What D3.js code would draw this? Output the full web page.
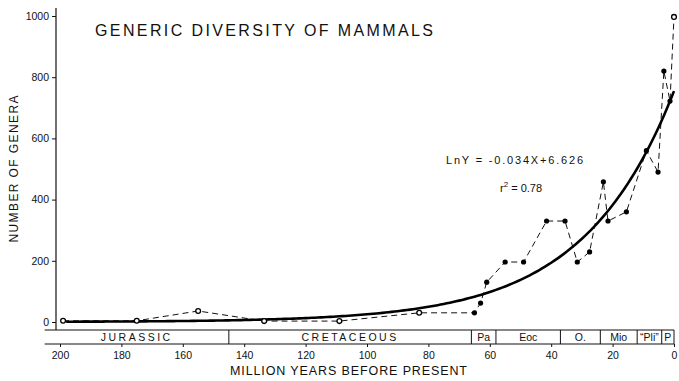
<!DOCTYPE html>
<html>
<head>
<meta charset="utf-8">
<script src="https://cdn.jsdelivr.net/npm/d3@7"></script>
<style>
    body { margin: 0; background: #fff; }
    text { font-family: "Liberation Sans", Arial, sans-serif; fill: #111; }
</style>
</head>
<body>
<div id="my_dataviz"></div>
<script>
// millions of years before present / number of genera
var ages   = [199, 175, 155, 133.5, 109, 83, 65, 63, 61, 55, 49, 41.5, 35.5, 31.5, 27.5, 23, 21.5, 15.5, 9, 5.2, 3.3, 1.3, 0];
var genera = [4, 4, 36, 3, 3, 30, 30, 62, 130, 196, 196, 330, 330, 196, 229, 458, 330, 360, 560, 490, 820, 722, 997];
// open circles vs filled dots
var isOpen = [true, true, true, true, true, true, false, false, false, false, false, false,
              false, false, false, false, false, false, false, false, false, false, true];

var periodNames  = ["JURASSIC", "CRETACEOUS", "Pa", "Eoc", "O.", "Mio", "\u201CPli\u201D", "P"];
var periodBounds = [205, 145, 66, 58, 37, 24, 12, 4, 0];

var xTicks = [200, 180, 160, 140, 120, 100, 80, 60, 40, 20, 0];
var yTicks = [0, 200, 400, 600, 800, 1000];

// regression printed on the chart: LnY = -0.034X + 6.626
var fitSlope = -0.034, fitIntercept = 6.626, fitR2 = 0.78;

var width = 679, height = 381;

var svg = d3.select("#my_dataviz")
    .append("svg")
    .attr("width", width)
    .attr("height", height);

var x = d3.scaleLinear().domain([200, 0]).range([60, 674]);
var y = d3.scaleLinear().domain([0, 1000]).range([322, 16]);

var bandTop = 330, bandBottom = 344;

// y axis
var yAxis = svg.append("g")
    .attr("transform", "translate(56,0)")
    .call(d3.axisLeft(y).tickValues(yTicks).tickFormat(d3.format("d"))
        .tickSize(4).tickPadding(3).tickSizeOuter(0));
yAxis.select(".domain").remove();
yAxis.selectAll("text").style("font-size", "10.5px").attr("fill", "#111");
yAxis.selectAll("line").attr("stroke", "#111");
svg.append("line")
    .attr("x1", 56).attr("x2", 56)
    .attr("y1", 8).attr("y2", bandTop)
    .attr("stroke", "#111").attr("stroke-width", 1.2);

// geological time band
var band = svg.append("g");
band.append("line")
    .attr("x1", x(periodBounds[0])).attr("x2", x(0))
    .attr("y1", bandTop).attr("y2", bandTop)
    .attr("stroke", "#111").attr("stroke-width", 1.2);
band.append("line")
    .attr("x1", x(periodBounds[0])).attr("x2", x(0))
    .attr("y1", bandBottom).attr("y2", bandBottom)
    .attr("stroke", "#111").attr("stroke-width", 1.2);
band.selectAll(".divider")
    .data(periodBounds.slice(1))
    .enter()
    .append("line")
    .attr("class", "divider")
    .attr("x1", function (d) { return x(d); })
    .attr("x2", function (d) { return x(d); })
    .attr("y1", bandTop).attr("y2", bandBottom)
    .attr("stroke", "#111").attr("stroke-width", 1);
band.selectAll(".period")
    .data(periodNames)
    .enter()
    .append("text")
    .attr("class", "period")
    .attr("x", function (d, i) { return (x(periodBounds[i]) + x(periodBounds[i + 1])) / 2; })
    .attr("y", bandBottom - 3.5)
    .attr("text-anchor", "middle")
    .style("font-size", "10.5px")
    .style("letter-spacing", function (d) { return d.length > 5 ? "2.5px" : "0px"; })
    .text(function (d) { return d; });

// x axis under the band
var xAxis = svg.append("g")
    .attr("transform", "translate(0," + bandBottom + ")")
    .call(d3.axisBottom(x).tickValues(xTicks).tickSize(3).tickPadding(5).tickSizeOuter(0));
xAxis.select(".domain").remove();
xAxis.selectAll("text").style("font-size", "10.5px").attr("fill", "#111");
xAxis.selectAll("line").attr("stroke", "#111");

// data line
var points = ages.map(function (a, i) { return { age: a, n: genera[i], open: isOpen[i] }; });

svg.append("path")
    .datum(points)
    .attr("d", d3.line().x(function (d) { return x(d.age); }).y(function (d) { return y(d.n); }))
    .style("fill", "none")
    .style("stroke", "#111")
    .style("stroke-width", 1)
    .style("stroke-dasharray", "6,4");

// fitted exponential curve
var fitAges = d3.range(198, -0.5, -1);
svg.append("path")
    .datum(fitAges)
    .attr("d", d3.line()
        .x(function (d) { return x(d); })
        .y(function (d) { return y(Math.exp(fitSlope * d + fitIntercept)); }))
    .style("fill", "none")
    .style("stroke", "#000")
    .style("stroke-width", 2.6);

svg.selectAll(".pt")
    .data(points)
    .enter()
    .append("circle")
    .attr("class", "pt")
    .attr("cx", function (d) { return x(d.age); })
    .attr("cy", function (d) { return y(d.n); })
    .attr("r", function (d) { return d.open ? 2.4 : 2.6; })
    .style("fill", function (d) { return d.open ? "#fff" : "#000"; })
    .style("stroke", "#000")
    .style("stroke-width", function (d) { return d.open ? 1.3 : 0; });

// titles
svg.append("text")
    .attr("x", 95)
    .attr("y", 36)
    .attr("textLength", 338)
    .attr("lengthAdjust", "spacing")
    .style("font-size", "16px")
    .text("GENERIC DIVERSITY OF MAMMALS");

svg.append("text")
    .attr("transform", "translate(18,169) rotate(-90)")
    .attr("text-anchor", "middle")
    .attr("textLength", 147)
    .attr("lengthAdjust", "spacing")
    .style("font-size", "12px")
    .text("NUMBER OF GENERA");

svg.append("text")
    .attr("x", 230)
    .attr("y", 375)
    .attr("textLength", 237)
    .attr("lengthAdjust", "spacing")
    .style("font-size", "12.5px")
    .text("MILLION YEARS BEFORE PRESENT");

// equation
svg.append("text")
    .attr("x", 446)
    .attr("y", 164)
    .attr("textLength", 137)
    .attr("lengthAdjust", "spacing")
    .style("font-size", "11px")
    .text("LnY = " + fitSlope.toFixed(3) + "X+" + fitIntercept.toFixed(3));

var r2Text = svg.append("text")
    .attr("x", 500)
    .attr("y", 192)
    .style("font-size", "11px");
r2Text.append("tspan").text("r");
r2Text.append("tspan").attr("dy", -5).style("font-size", "8px").text("2");
r2Text.append("tspan").attr("dy", 5).text(" = " + fitR2.toFixed(2));
</script>
</body>
</html>
